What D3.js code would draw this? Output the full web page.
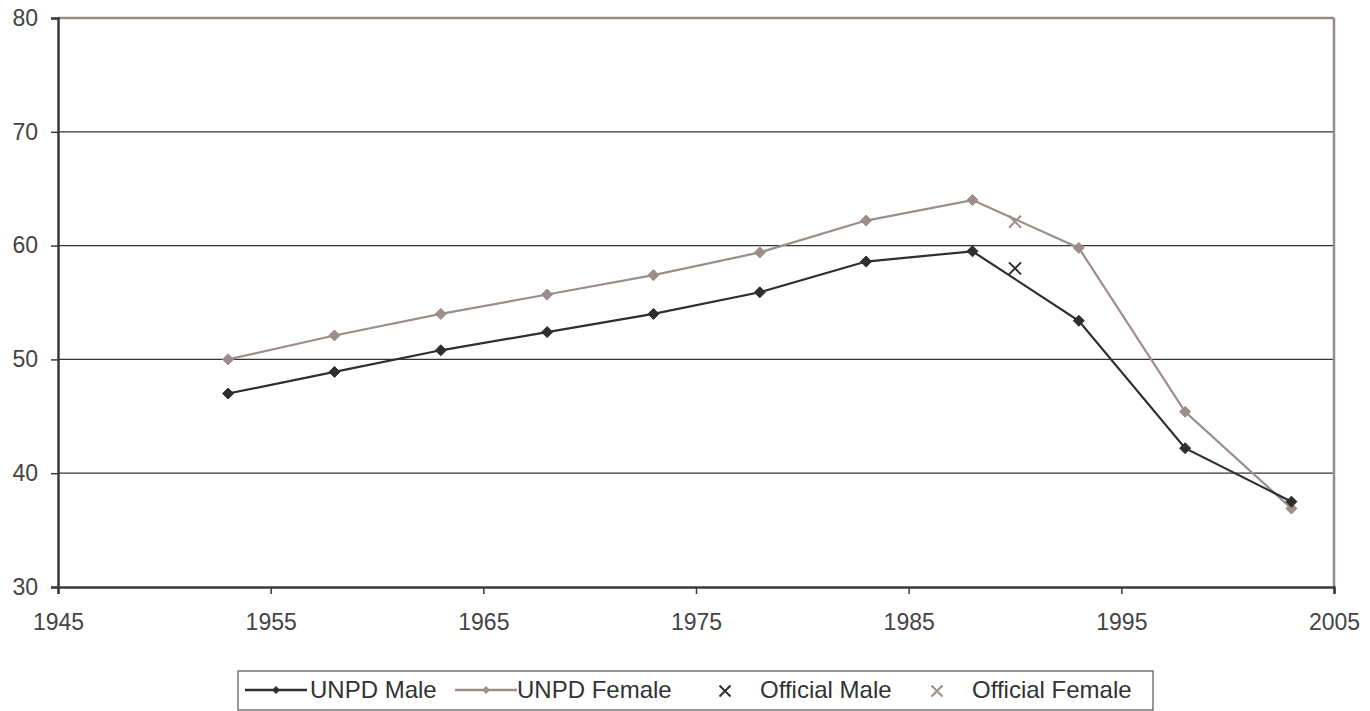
<!DOCTYPE html>
<html><head><meta charset="utf-8">
<script src="https://cdn.jsdelivr.net/npm/d3@7"></script>
<style>body{margin:0;background:#fff;} text{font-family:"Liberation Sans",Arial,sans-serif;}</style>
</head><body><svg id="c" width="1370" height="711"></svg>
<script>
const years = [1953,1958,1963,1968,1973,1978,1983,1988,1993,1998,2003];
const unpdMale = [47.0,48.9,50.8,52.4,54.0,55.9,58.6,59.5,53.4,42.2,37.5];
const unpdFemale = [50.0,52.1,54.0,55.7,57.4,59.4,62.2,64.0,59.8,45.4,36.9];
const officialYears = [1990];
const officialMale = [58.0];
const officialFemale = [62.1];
const xTicks = [1945,1955,1965,1975,1985,1995,2005];
const yTicks = [30,40,50,60,70,80];
const seriesNames = ["UNPD Male","UNPD Female","Official Male","Official Female"];

const maleColor = "#2e2e2e", femaleColor = "#9b8e8b", frameColor = "#9a8a87";
const svg = d3.select("#c");
const L=58, R=1334, T=18, B=587;
const x = d3.scaleLinear().domain([1945,2005]).range([L,R]);
const y = d3.scaleLinear().domain([30,80]).range([B,T]);

// gridlines
svg.append("g").selectAll("line").data(yTicks.filter(v=>v>30&&v<80)).join("line")
  .attr("x1",L).attr("x2",R).attr("y1",d=>y(d)).attr("y2",d=>y(d))
  .attr("stroke","#333").attr("stroke-width",1.3);
// frame top & right
svg.append("line").attr("x1",L).attr("x2",R).attr("y1",T).attr("y2",T).attr("stroke",frameColor).attr("stroke-width",2.5);
svg.append("line").attr("x1",R).attr("x2",R).attr("y1",T).attr("y2",B).attr("stroke",frameColor).attr("stroke-width",2.5);

// axes
const yAxis = svg.append("g").attr("transform",`translate(${L},0)`)
  .call(d3.axisLeft(y).tickValues(yTicks).tickSize(7).tickPadding(13).tickFormat(d3.format("d")));
const xAxis = svg.append("g").attr("transform",`translate(0,${B})`)
  .call(d3.axisBottom(x).tickValues(xTicks).tickSize(7).tickPadding(20).tickFormat(d3.format("d")));
[yAxis,xAxis].forEach(a=>{
  a.attr("font-family",null).attr("font-size",null);
  a.select(".domain").attr("stroke","#3a3a3a").attr("stroke-width",2.5);
  a.selectAll(".tick line").attr("stroke","#3a3a3a").attr("stroke-width",1.5);
  a.selectAll("text").attr("fill","#444").style("font-size","23px");
});

const line = d3.line().x(d=>x(d[0])).y(d=>y(d[1]));
function diamondPath(r){ return `M0,${-r}L${r},0L0,${r}L${-r},0Z`; }
function series(vals,color){
  const pts = years.map((yr,i)=>[yr,vals[i]]);
  svg.append("path").datum(pts).attr("d",line).attr("fill","none").attr("stroke",color).attr("stroke-width",2.2);
  svg.append("g").selectAll("path").data(pts).join("path").attr("d",diamondPath(5.5))
    .attr("transform",d=>`translate(${x(d[0])},${y(d[1])})`).attr("fill",color)
    .attr("stroke",color).attr("stroke-width",1).attr("stroke-linejoin","round");
}
series(unpdFemale,femaleColor);
series(unpdMale,maleColor);

function cross(g,cx,cy,s,color){
  g.append("path").attr("d",`M${cx-s},${cy-s}L${cx+s},${cy+s}M${cx-s},${cy+s}L${cx+s},${cy-s}`)
   .attr("stroke",color).attr("stroke-width",2).attr("fill","none");
}
officialYears.forEach((yr,i)=>{
  cross(svg,x(yr),y(officialMale[i]),6,maleColor);
  cross(svg,x(yr),y(officialFemale[i]),6,femaleColor);
});

// legend
const lg = svg.append("g");
lg.append("rect").attr("x",238).attr("y",671).attr("width",915).attr("height",39)
  .attr("fill","#fff").attr("stroke","#555").attr("stroke-width",1.2);
const ly = 690;
const items = [
  {name:seriesNames[0],color:maleColor,type:"line",x0:245,tx:310},
  {name:seriesNames[1],color:femaleColor,type:"line",x0:455,tx:517},
  {name:seriesNames[2],color:maleColor,type:"x",x0:725,tx:760},
  {name:seriesNames[3],color:femaleColor,type:"x",x0:937,tx:972}
];
items.forEach(it=>{
  if(it.type==="line"){
    lg.append("line").attr("x1",it.x0).attr("x2",it.x0+62).attr("y1",ly).attr("y2",ly).attr("stroke",it.color).attr("stroke-width",2.5);
    lg.append("path").attr("d",diamondPath(4)).attr("transform",`translate(${it.x0+31},${ly})`).attr("fill",it.color);
  } else {
    cross(lg,it.x0,ly+1,5.5,it.color);
  }
  lg.append("text").attr("x",it.tx).attr("y",698).text(it.name).attr("fill","#333").style("font-size","24px");
});
</script></body></html>
